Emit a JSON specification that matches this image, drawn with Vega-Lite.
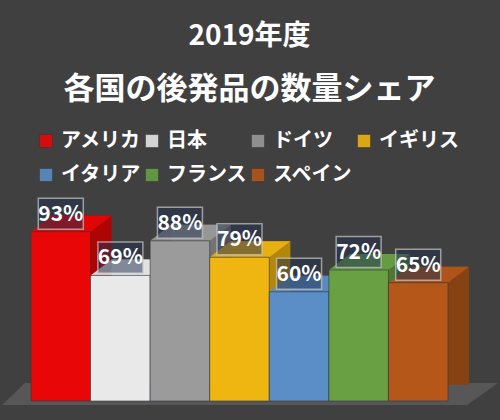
{
  "$schema": "https://vega.github.io/schema/vega-lite/v6.json",
  "background": "#404040",
  "autosize": {"type": "none"},
  "padding": {"left": 31, "top": 219, "right": 52, "bottom": 19},
  "width": 417,
  "height": 182,
  "title": {
    "text": "2019年度",
    "subtitle": "各国の後発品の数量シェア",
    "font": "Noto Sans CJK JP",
    "fontSize": 28,
    "fontWeight": "bold",
    "color": "white",
    "subtitleFont": "Noto Sans CJK JP",
    "subtitleFontSize": 31,
    "subtitleFontWeight": "bold",
    "subtitleColor": "white",
    "subtitlePadding": 24,
    "anchor": "middle",
    "frame": "group",
    "dx": 10,
    "dy": -22
  },
  "data": {
    "values": [
      {"country": "アメリカ", "share": 0.93},
      {"country": "日本", "share": 0.69},
      {"country": "ドイツ", "share": 0.88},
      {"country": "イギリス", "share": 0.79},
      {"country": "イタリア", "share": 0.60},
      {"country": "フランス", "share": 0.72},
      {"country": "スペイン", "share": 0.65}
    ]
  },
  "layer": [
    {
      "data": {"values": [{"part": "floor"}]},
      "mark": {
        "type": "point",
        "filled": true,
        "size": 4,
        "shape": "M-237.5,4L227.5,4L258.5,-18L-214.5,-18Z",
        "fill": "#575757",
        "opacity": 1
      },
      "encoding": {
        "x": {
          "datum": "イギリス",
          "type": "nominal",
          "scale": {"domain": ["アメリカ", "日本", "ドイツ", "イギリス", "イタリア", "フランス", "スペイン"]}
        },
        "y": {"datum": 0, "type": "quantitative"}
      }
    },
    {
      "mark": {"type": "bar", "xOffset": 21, "yOffset": -16},
      "encoding": {
        "x": {"field": "country", "type": "nominal", "sort": null},
        "y": {"field": "share", "type": "quantitative"},
        "color": {
          "field": "country",
          "type": "nominal",
          "sort": null,
          "title": null,
          "scale": {
            "domain": ["アメリカ", "日本", "ドイツ", "イギリス", "イタリア", "フランス", "スペイン"],
            "range": ["#e80606", "#e9e9e9", "#9b9b9b", "#efb511", "#5b8ec6", "#69a044", "#b45719"]
          },
          "legend": {
            "orient": "none",
            "legendX": 5,
            "legendY": -88,
            "direction": "horizontal",
            "columns": 4,
            "columnPadding": 1,
            "rowPadding": 14,
            "symbolType": "square",
            "symbolSize": 169,
            "symbolStrokeColor": "#333333",
            "symbolStrokeWidth": 0.5,
            "symbolOpacity": 1,
            "labelFont": "Noto Sans CJK JP",
            "labelFontSize": 20,
            "labelFontWeight": "bold",
            "labelColor": "white",
            "labelOffset": 5
          }
        }
      }
    },
    {
      "mark": {"type": "bar", "xOffset": 21, "yOffset": -16, "fill": "black", "opacity": 0.25},
      "encoding": {
        "x": {"field": "country", "type": "nominal", "sort": null},
        "y": {"field": "share", "type": "quantitative"}
      }
    },
    {
      "mark": {
        "type": "point",
        "filled": true,
        "size": 4,
        "shape": "M-29.8,0L29.8,0L50.8,-16L-8.8,-16Z",
        "opacity": 0.88
      },
      "encoding": {
        "x": {"field": "country", "type": "nominal", "sort": null},
        "y": {"field": "share", "type": "quantitative"},
        "color": {"field": "country", "type": "nominal", "sort": null}
      }
    },
    {
      "mark": {"type": "bar", "stroke": "#2f3540", "strokeWidth": 1, "strokeOpacity": 0.6},
      "encoding": {
        "x": {"field": "country", "type": "nominal", "sort": null},
        "y": {"field": "share", "type": "quantitative"},
        "color": {"field": "country", "type": "nominal", "sort": null}
      }
    },
    {
      "mark": {
        "type": "point",
        "filled": true,
        "size": 4,
        "shape": "M-22.5,-15.5L22.5,-15.5L22.5,15.5L-22.5,15.5Z",
        "yOffset": -18,
        "fill": "#1f3050",
        "fillOpacity": 0.5,
        "stroke": "#c8c8c8",
        "strokeOpacity": 0.7,
        "strokeWidth": 1.5,
        "opacity": 1
      },
      "encoding": {
        "x": {"field": "country", "type": "nominal", "sort": null},
        "y": {"field": "share", "type": "quantitative"}
      }
    },
    {
      "mark": {
        "type": "text",
        "yOffset": -17,
        "baseline": "middle",
        "align": "center",
        "font": "Noto Sans CJK JP",
        "fontSize": 21,
        "fontWeight": "bold",
        "color": "white"
      },
      "encoding": {
        "x": {"field": "country", "type": "nominal", "sort": null},
        "y": {"field": "share", "type": "quantitative"},
        "text": {"field": "share", "type": "quantitative", "format": ".0%"}
      }
    }
  ],
  "config": {
    "view": {"stroke": null},
    "axis": {"disable": true},
    "scale": {"bandPaddingInner": 0, "bandPaddingOuter": 0}
  }
}
